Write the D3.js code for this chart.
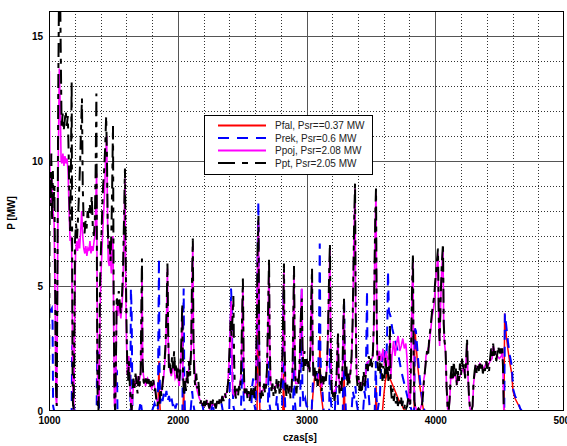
<!DOCTYPE html>
<html><head><meta charset="utf-8">
<script src="https://cdn.jsdelivr.net/npm/d3@7"></script>
<style>body{margin:0;background:#fff}svg{display:block}</style>
</head><body>
<svg id="chart" width="567" height="446"></svg>
<script>
// ---- DATA (time [s], power [MW]) ----
const xTicks = [1000, 2000, 3000, 4000, 5000];
const yTicks = [0, 5, 10, 15];
const seriesNames = ["Pfal, Psr==0.37 MW", "Prek, Psr=0.6 MW", "Ppoj, Psr=2.08 MW", "Ppt, Psr=2.05 MW"];

const pfal = [[1000,0],[1846,0],[1850,1.0],[1854,2.0],[1858,0.5],[1864,0],[2040,0],[2046,0.9],[2052,0],[2616,0],[2622,3.5],[2627,6.0],[2632,1.5],[2638,0],[2816,0],[2822,1.5],[2828,0],[3040,0],[3052,0.8],[3062,1.3],[3074,1.5],[3084,1.4],[3094,1.0],[3100,1.8],[3104,3.0],[3110,0.8],[3120,0.4],[3130,0],[3286,0],[3292,1.5],[3298,0],[3536,0],[3540,1.0],[3546,0],[3590,0],[3600,0.6],[3612,1.2],[3626,1.5],[3640,1.4],[3656,1.2],[3672,1.0],[3688,0.8],[3704,0.6],[3720,0.4],[3736,0.3],[3752,0.1],[3766,0],[3836,0],[3842,3.3],[3852,2.6],[3864,1.8],[3876,1.2],[3888,0.7],[3900,0.3],[3910,0],[4534,0],[4539,3.9],[4552,3.0],[4566,2.4],[4580,1.9],[4594,1.5],[4604,0.8],[4620,0.5],[4640,0.3],[4670,0],[4790,0]];

const prek = [[1000,4.1],[1012,4.0],[1022,4.1],[1028,3.5],[1032,0.2],[1040,0],[1176,0],[1180,2.6],[1190,2.7],[1195,0.1],[1200,0],[1370,0],[1374,2.4],[1384,2.3],[1389,0],[1512,0],[1516,1.7],[1528,1.6],[1532,0],[1632,0],[1636,4.9],[1642,4.0],[1648,0.2],[1660,0],[1700,0],[1712,0.4],[1722,0],[1800,0],[1820,0.3],[1836,0],[1846,0.1],[1850,3.5],[1854,6.1],[1858,2.0],[1864,0.3],[1872,0.6],[1882,0.4],[1892,0.7],[1902,0.5],[1912,0.8],[1922,0.4],[1932,0.6],[1942,0.3],[1952,0.5],[1962,0.2],[1972,0.4],[1982,0.1],[1992,0.3],[2002,0],[2036,0],[2040,2.5],[2046,4.9],[2051,1.0],[2056,0],[2100,0],[2112,0.8],[2120,0.3],[2130,0],[2180,0],[2190,0.3],[2200,0],[2260,0],[2270,0.4],[2280,0],[2330,0],[2340,0.3],[2350,0],[2400,0],[2408,2.0],[2414,4.9],[2420,4.2],[2426,1.0],[2432,0.2],[2440,0],[2490,0],[2500,1.5],[2506,2.2],[2512,0.5],[2520,0],[2570,0],[2578,1.0],[2586,1.3],[2594,0.3],[2604,0],[2612,1.5],[2620,6.0],[2626,8.4],[2632,2.5],[2638,0.4],[2646,0],[2700,0],[2706,2.0],[2712,0.3],[2720,0],[2760,0],[2770,0.6],[2780,0],[2810,0],[2816,2.5],[2822,4.8],[2828,1.2],[2836,0],[2896,0],[2902,2.8],[2908,0.5],[2916,0],[2950,0],[2956,2.0],[2962,4.9],[2968,1.0],[2976,0.3],[2990,0.5],[3000,0.2],[3040,0],[3050,1.2],[3060,1.6],[3072,1.5],[3080,1.7],[3090,1.3],[3098,3.5],[3103,6.7],[3108,2.5],[3114,1.2],[3124,0.8],[3134,0],[3176,0],[3182,2.5],[3188,0.5],[3196,0],[3220,0],[3230,1.0],[3240,0.8],[3248,0],[3282,0],[3287,3.0],[3292,4.5],[3298,1.0],[3306,0],[3350,0],[3360,0.8],[3370,0.5],[3380,1.0],[3390,0.3],[3400,0],[3440,0],[3450,0.8],[3458,0.5],[3464,2.5],[3470,4.8],[3476,1.2],[3484,0.6],[3492,0],[3530,0],[3538,2.0],[3544,0.5],[3552,0],[3570,0.6],[3580,1.8],[3590,2.3],[3600,2.0],[3612,2.4],[3622,2.2],[3628,3.5],[3633,5.6],[3640,4.0],[3652,3.8],[3666,3.3],[3680,3.0],[3694,2.7],[3708,2.4],[3722,2.0],[3736,1.6],[3750,1.3],[3764,1.0],[3778,0.7],[3792,0.4],[3806,0.2],[3818,0],[3836,0],[3842,3.3],[3850,3.2],[3862,2.4],[3874,1.6],[3886,1.0],[3898,0.5],[3910,0.1],[3920,0],[4536,0],[4541,3.9],[4552,3.4],[4566,2.7],[4580,2.2],[4595,1.8],[4604,0.9],[4620,0.6],[4640,0.4],[4660,0.1],[4674,0],[4790,0]];

const ppoj = [[1000,0],[1003,13.6],[1008,9.0],[1014,8.2],[1020,9.5],[1026,8.5],[1032,8.0],[1040,7.5],[1048,4.0],[1054,0.5],[1060,0.2],[1066,5.0],[1072,10.0],[1080,13.7],[1088,12.0],[1094,10.0],[1100,9.9],[1108,10.3],[1116,9.8],[1124,10.2],[1132,9.9],[1140,10.1],[1148,9.6],[1156,8.0],[1164,6.8],[1170,7.0],[1176,6.5],[1182,3.0],[1186,0.5],[1192,0],[1198,3.0],[1206,6.3],[1214,6.8],[1222,6.4],[1230,6.9],[1238,6.5],[1246,7.2],[1254,8.0],[1262,7.0],[1270,6.5],[1278,6.3],[1286,6.6],[1294,6.2],[1302,6.5],[1310,6.4],[1318,6.8],[1326,6.3],[1334,6.6],[1342,6.4],[1350,6.8],[1358,7.0],[1364,8.5],[1370,9.5],[1376,2.0],[1380,0.2],[1390,0.5],[1396,4.0],[1404,5.5],[1412,6.5],[1420,7.5],[1430,8.5],[1440,10.2],[1448,11.0],[1454,8.0],[1460,6.0],[1468,5.8],[1476,6.3],[1484,5.5],[1490,6.5],[1497,7.0],[1503,3.0],[1508,0.3],[1514,0],[1520,1.5],[1526,4.2],[1534,3.8],[1542,4.4],[1550,4.0],[1558,3.7],[1566,4.2],[1574,4.8],[1582,7.0],[1590,9.3],[1596,5.0],[1602,2.8],[1608,1.5],[1614,1.4],[1620,2.2],[1628,1.2],[1636,0.3],[1642,0],[1648,0.5],[1656,1.0],[1664,1.2],[1672,1.0],[1680,1.4],[1688,1.2],[1696,1.0],[1704,1.3],[1712,1.5],[1718,3.0],[1722,5.8],[1728,1.8],[1734,1.4],[1750,1.0],[1766,1.3],[1782,1.1],[1798,0.9],[1814,1.2],[1830,0.6],[1846,0.3],[1858,0.6],[1874,0.8],[1890,1.3],[1906,2.4],[1914,4.0],[1920,5.7],[1926,2.8],[1934,1.8],[1950,1.4],[1966,1.9],[1980,1.3],[1996,1.5],[2012,1.0],[2028,2.5],[2035,4.1],[2041,1.3],[2056,1.0],[2072,1.4],[2088,1.7],[2104,2.3],[2110,4.8],[2117,6.7],[2122,2.8],[2136,1.2],[2152,0.8],[2168,0.5],[2186,0.3],[2206,0.2],[2226,0.4],[2246,0.1],[2266,0.3],[2286,0.2],[2306,0.3],[2326,0.4],[2346,0.5],[2366,0.6],[2386,0.8],[2402,2.3],[2410,3.8],[2416,4.4],[2422,1.8],[2428,0.7],[2444,0.6],[2460,0.8],[2476,0.9],[2492,1.4],[2499,3.4],[2506,5.1],[2512,1.8],[2520,0.7],[2536,0.8],[2552,0.6],[2568,0.8],[2584,0.7],[2600,0.8],[2608,1.3],[2614,3.3],[2620,6.2],[2627,7.6],[2632,2.8],[2640,0.7],[2656,0.8],[2672,0.9],[2686,1.1],[2694,1.7],[2701,3.6],[2709,5.9],[2714,2.8],[2722,1.1],[2738,0.9],[2754,0.9],[2770,1.1],[2786,1.0],[2802,1.1],[2810,1.5],[2815,2.5],[2820,4.3],[2825,5.7],[2830,2.3],[2838,0.9],[2854,0.9],[2870,0.8],[2886,1.0],[2892,1.7],[2898,3.8],[2903,5.6],[2908,2.8],[2916,1.1],[2932,1.1],[2946,1.7],[2952,3.2],[2958,4.4],[2964,4.9],[2969,2.6],[2978,1.8],[2994,2.0],[3010,1.8],[3024,1.6],[3031,2.5],[3037,4.3],[3043,5.5],[3048,2.3],[3056,1.4],[3072,1.3],[3088,1.2],[3102,1.7],[3118,1.0],[3134,1.2],[3150,1.3],[3158,1.7],[3164,2.5],[3170,3.8],[3176,5.3],[3182,6.5],[3188,2.8],[3196,0.9],[3212,0.7],[3228,0.9],[3234,1.4],[3240,2.4],[3245,3.0],[3250,1.4],[3260,0.9],[3274,1.0],[3280,1.7],[3286,3.3],[3291,4.3],[3296,2.4],[3304,1.5],[3320,1.2],[3336,1.3],[3350,2.0],[3358,3.4],[3364,5.3],[3370,7.3],[3377,8.9],[3382,3.8],[3390,1.4],[3406,1.2],[3422,1.0],[3438,1.2],[3454,1.2],[3468,1.9],[3484,2.0],[3500,2.0],[3516,2.2],[3523,3.4],[3529,5.8],[3535,7.8],[3540,8.7],[3545,3.8],[3552,2.0],[3566,2.4],[3580,2.0],[3594,2.5],[3606,1.8],[3620,2.4],[3634,1.9],[3642,1.6],[3648,3.2],[3654,1.3],[3664,2.2],[3676,2.8],[3688,2.2],[3700,2.7],[3712,3.0],[3724,2.4],[3736,2.6],[3748,2.9],[3760,2.5],[3772,2.7],[3782,2.0],[3790,1.0],[3798,0.3],[3806,0.3],[3814,2.8],[3820,4.8],[3827,6.1],[3832,1.8],[3840,0.3],[3856,0],[3880,0],[3896,0.3],[3904,0.8],[3912,1.3],[3920,1.5],[3928,2.2],[3936,2.3],[3944,2.5],[3952,2.6],[3960,3.0],[3968,3.4],[3976,3.8],[3984,4.0],[3992,4.3],[4000,5.0],[4010,5.6],[4021,6.3],[4028,3.3],[4034,2.6],[4042,4.3],[4050,5.6],[4060,6.5],[4066,3.3],[4072,2.7],[4080,2.3],[4088,0.9],[4096,0.1],[4104,0],[4112,0.4],[4120,1.3],[4136,1.3],[4152,1.5],[4168,1.1],[4184,1.3],[4200,1.5],[4216,1.7],[4232,1.4],[4247,2.7],[4254,1.4],[4262,0.5],[4270,0.1],[4280,0],[4290,0.2],[4298,1.1],[4314,1.8],[4330,1.7],[4346,1.9],[4362,1.8],[4378,1.7],[4394,1.9],[4410,1.8],[4426,2.0],[4442,2.1],[4450,2.6],[4466,2.3],[4482,2.2],[4498,2.1],[4514,2.2],[4520,2.5],[4526,1.7],[4532,0.1],[4540,0],[4790,0]];

const ppt = [[1000,0],[1006,9.5],[1012,8.2],[1018,10.3],[1024,7.6],[1030,9.6],[1036,8.4],[1042,9.0],[1048,5.0],[1054,1.0],[1060,0.2],[1066,6.0],[1072,13.0],[1078,16.8],[1086,17.0],[1092,14.0],[1098,11.3],[1106,11.9],[1114,11.2],[1122,11.6],[1130,12.0],[1138,11.4],[1146,11.8],[1152,10.5],[1158,8.5],[1164,7.2],[1170,9.5],[1176,13.2],[1180,6.0],[1184,0.5],[1190,0],[1196,2.0],[1202,6.8],[1210,7.5],[1218,6.9],[1226,7.8],[1234,8.8],[1242,10.0],[1250,11.5],[1256,12.5],[1262,9.0],[1268,7.8],[1276,7.1],[1284,7.6],[1292,7.3],[1300,8.0],[1308,7.7],[1316,8.3],[1324,7.9],[1332,8.6],[1340,7.4],[1348,7.0],[1356,7.6],[1362,9.5],[1368,12.7],[1374,3.0],[1378,0.3],[1384,0],[1390,1.5],[1396,5.0],[1404,6.5],[1412,7.8],[1420,9.0],[1428,9.6],[1436,10.5],[1444,11.8],[1450,10.2],[1456,7.5],[1462,6.5],[1470,6.8],[1478,6.0],[1486,7.5],[1492,9.5],[1497,11.4],[1502,5.0],[1508,0.5],[1514,0],[1520,2.0],[1526,4.6],[1534,4.2],[1542,4.8],[1550,4.3],[1558,3.9],[1566,4.5],[1574,5.5],[1582,7.5],[1590,9.7],[1596,6.0],[1602,3.5],[1608,1.8],[1614,1.2],[1620,2.0],[1628,1.0],[1636,0.2],[1642,0],[1648,0.6],[1656,1.3],[1664,0.9],[1672,1.5],[1680,1.1],[1688,0.7],[1696,1.4],[1704,1.0],[1712,1.6],[1717,4.0],[1722,6.1],[1727,2.0],[1734,1.2],[1742,1.0],[1752,1.3],[1762,1.1],[1772,1.4],[1782,0.9],[1792,1.2],[1802,1.0],[1810,1.3],[1818,0.8],[1826,0.9],[1834,0.4],[1842,0.2],[1850,0.5],[1858,0.3],[1866,0.9],[1874,0.6],[1882,1.1],[1890,1.5],[1898,2.0],[1906,2.8],[1914,4.2],[1920,5.9],[1926,3.0],[1932,1.6],[1940,2.0],[1948,1.5],[1956,2.2],[1964,1.7],[1972,2.4],[1980,1.5],[1988,1.9],[1996,1.3],[2004,1.7],[2012,1.2],[2020,1.6],[2028,2.8],[2035,4.3],[2041,1.5],[2048,0.6],[2056,1.2],[2064,0.8],[2072,1.6],[2080,1.1],[2088,2.0],[2096,1.4],[2104,2.5],[2110,5.0],[2117,6.9],[2122,3.0],[2128,1.4],[2136,1.0],[2144,1.5],[2152,0.9],[2160,1.2],[2168,0.6],[2176,0.3],[2186,0.5],[2196,0.2],[2206,0.4],[2216,0.1],[2226,0.5],[2236,0.3],[2246,0.1],[2256,0.4],[2266,0.2],[2276,0.5],[2286,0.3],[2296,0.1],[2306,0.4],[2316,0.2],[2326,0.5],[2336,0.3],[2346,0.6],[2356,0.4],[2366,0.7],[2376,0.5],[2386,0.9],[2394,1.3],[2402,2.5],[2410,3.6],[2418,3.0],[2426,3.8],[2432,4.6],[2438,2.0],[2444,0.8],[2452,0.5],[2460,0.9],[2468,0.6],[2476,1.0],[2484,0.8],[2492,1.6],[2499,3.6],[2506,5.3],[2512,2.0],[2518,0.8],[2526,0.6],[2534,0.9],[2542,0.5],[2550,0.8],[2558,0.4],[2566,0.7],[2574,1.0],[2582,0.6],[2590,0.9],[2598,0.5],[2606,1.2],[2614,3.5],[2620,6.5],[2627,7.8],[2632,3.0],[2638,0.8],[2646,0.5],[2654,0.9],[2662,0.6],[2670,1.1],[2678,0.7],[2686,1.0],[2694,1.8],[2701,3.8],[2709,6.1],[2714,3.0],[2720,1.2],[2728,0.8],[2736,1.1],[2744,0.6],[2752,1.0],[2760,0.7],[2768,1.3],[2776,0.9],[2784,1.2],[2792,0.6],[2800,1.0],[2808,1.4],[2815,2.6],[2820,4.5],[2825,5.9],[2830,2.5],[2836,1.0],[2844,0.6],[2852,1.1],[2860,0.7],[2868,1.0],[2876,0.5],[2884,0.9],[2892,1.8],[2898,4.0],[2903,5.8],[2908,3.0],[2914,1.2],[2922,0.7],[2930,1.3],[2938,1.0],[2946,1.8],[2952,3.0],[2958,4.0],[2964,4.5],[2969,2.5],[2976,1.6],[2984,2.4],[2992,1.8],[3000,2.2],[3008,1.7],[3016,2.0],[3024,1.5],[3031,2.6],[3037,4.5],[3043,5.7],[3048,2.5],[3054,1.3],[3062,1.8],[3070,1.2],[3078,1.6],[3086,1.0],[3094,1.4],[3102,1.8],[3110,1.2],[3118,0.8],[3126,1.4],[3134,1.0],[3142,1.5],[3150,1.2],[3158,1.8],[3164,2.6],[3170,4.0],[3176,5.5],[3182,6.7],[3188,3.0],[3194,1.0],[3202,0.5],[3210,0.8],[3218,0.4],[3226,0.9],[3234,1.5],[3240,2.5],[3245,3.1],[3250,1.5],[3256,0.7],[3264,1.2],[3272,0.8],[3280,1.8],[3286,3.5],[3291,4.5],[3296,2.5],[3302,1.3],[3310,1.8],[3318,1.0],[3326,1.5],[3334,1.1],[3342,1.6],[3350,2.2],[3358,3.5],[3364,5.5],[3370,7.5],[3377,9.1],[3382,4.0],[3388,1.5],[3396,1.0],[3404,1.4],[3412,0.8],[3420,1.2],[3428,0.7],[3436,1.1],[3444,1.6],[3452,1.0],[3460,1.4],[3468,2.0],[3476,1.6],[3484,2.2],[3492,1.8],[3500,2.1],[3508,1.7],[3516,2.4],[3523,3.5],[3529,6.0],[3535,8.0],[3540,8.9],[3545,4.0],[3550,2.0],[3558,1.6],[3566,2.2],[3574,1.5],[3582,1.9],[3590,1.2],[3598,1.8],[3606,1.3],[3614,2.2],[3622,1.4],[3630,1.8],[3636,1.2],[3642,1.5],[3648,3.4],[3654,1.0],[3662,0.5],[3670,0.9],[3678,0.4],[3686,0.7],[3694,0.3],[3702,0.6],[3710,0.2],[3718,0.5],[3726,0.3],[3734,0.6],[3742,0.2],[3750,0.4],[3758,0.1],[3766,0.3],[3774,0.1],[3782,0.2],[3790,0.5],[3798,0.2],[3806,0.3],[3814,3.0],[3820,5.0],[3827,6.3],[3832,2.0],[3838,0.4],[3846,0.1],[3856,0],[3870,0.1],[3884,0],[3896,0.2],[3904,0.6],[3912,1.2],[3920,1.6],[3928,2.0],[3936,2.4],[3944,2.2],[3952,2.8],[3960,3.2],[3968,3.6],[3976,4.0],[3984,4.3],[3992,4.6],[4000,5.2],[4010,5.8],[4021,6.5],[4028,3.5],[4034,2.8],[4042,4.5],[4050,5.8],[4060,6.7],[4066,3.5],[4072,2.8],[4080,2.5],[4088,1.0],[4096,0.1],[4104,0],[4112,0.5],[4120,1.4],[4128,1.8],[4136,1.2],[4144,2.0],[4152,1.4],[4160,1.7],[4168,1.0],[4176,1.6],[4184,1.2],[4192,1.9],[4200,1.4],[4208,2.1],[4216,1.6],[4224,1.9],[4232,1.3],[4240,2.0],[4247,2.9],[4254,1.5],[4262,0.6],[4270,0.1],[4280,0],[4290,0.2],[4298,1.2],[4306,1.6],[4314,1.9],[4322,1.5],[4330,1.8],[4338,1.6],[4346,2.0],[4354,1.7],[4362,1.9],[4370,1.5],[4378,1.8],[4386,1.6],[4394,2.0],[4402,1.7],[4410,1.9],[4418,1.6],[4426,2.1],[4434,2.5],[4442,2.2],[4450,2.7],[4458,2.1],[4466,2.4],[4474,2.0],[4482,2.3],[4490,2.6],[4498,2.2],[4506,2.5],[4514,2.3],[4520,2.6],[4526,1.8],[4532,0.1],[4540,0],[4790,0]];

// ---- CHART ----
const svg = d3.select("#chart");
const L = 49, R = 564, T = 11, B = 411;
const x = d3.scaleLinear().domain([1000, 5000]).range([L, R]);
const y = d3.scaleLinear().domain([0, 16]).range([B, T]);

svg.append("rect").attr("width", 567).attr("height", 446).attr("fill", "#fff");

const grid = svg.append("g");
// minor dotted grid
const xMinor = d3.range(1000, 5001, 200).filter(v => v % 1000 !== 0);
const yMinor = d3.range(1, 16, 1).filter(v => v % 5 !== 0);
grid.selectAll(".xm").data(xMinor).join("line")
  .attr("x1", d => Math.round(x(d)) + 0.5).attr("x2", d => Math.round(x(d)) + 0.5)
  .attr("y1", T).attr("y2", B)
  .attr("stroke", "#333").attr("stroke-width", 1).attr("stroke-dasharray", "1,2");
grid.selectAll(".ym").data(yMinor).join("line")
  .attr("y1", d => Math.round(y(d)) + 0.5).attr("y2", d => Math.round(y(d)) + 0.5)
  .attr("x1", L).attr("x2", R)
  .attr("stroke", "#333").attr("stroke-width", 1).attr("stroke-dasharray", "1,2");
// major solid grid
grid.selectAll(".xM").data(xTicks.slice(1, -1)).join("line")
  .attr("x1", d => Math.round(x(d)) + 0.5).attr("x2", d => Math.round(x(d)) + 0.5)
  .attr("y1", T).attr("y2", B).attr("stroke", "#555").attr("stroke-width", 1);
grid.selectAll(".yM").data(yTicks.slice(1)).join("line")
  .attr("y1", d => Math.round(y(d)) + 0.5).attr("y2", d => Math.round(y(d)) + 0.5)
  .attr("x1", L).attr("x2", R).attr("stroke", "#555").attr("stroke-width", 1);

// clip
svg.append("defs").append("clipPath").attr("id", "clip")
  .append("rect").attr("x", L).attr("y", T).attr("width", R - L).attr("height", B - T);

const line = d3.line().x(d => x(d[0])).y(d => y(d[1]));
const styles = [
  {data: pfal, color: "#ff0000", w: 1.5, dash: null},
  {data: prek, color: "#0000ff", w: 2, dash: "10,7"},
  {data: ppoj, color: "#ff00ff", w: 1.6, dash: null},
  {data: ppt,  color: "#000000", w: 2, dash: "14,6,5,6"}
];
const plot = svg.append("g").attr("clip-path", "url(#clip)");
styles.forEach(s => {
  plot.append("path").datum(s.data).attr("d", line)
    .attr("fill", "none").attr("stroke", s.color).attr("stroke-width", s.w)
    .attr("stroke-linejoin", "miter").attr("stroke-dasharray", s.dash);
});

// border
svg.append("rect").attr("x", L + 0.5).attr("y", T + 0.5).attr("width", R - L - 1).attr("height", B - T - 1)
  .attr("fill", "none").attr("stroke", "#000").attr("stroke-width", 1);

// axes (labels only)
const xAxis = svg.append("g").attr("transform", `translate(0,${B})`)
  .call(d3.axisBottom(x).tickValues(xTicks).tickFormat(d3.format("d")).tickSize(0).tickPadding(6));
const yAxis = svg.append("g").attr("transform", `translate(${L},0)`)
  .call(d3.axisLeft(y).tickValues(yTicks).tickFormat(d3.format("d")).tickSize(0).tickPadding(6));
[xAxis, yAxis].forEach(a => {
  a.select(".domain").remove();
  a.selectAll("text").attr("font-family", "'Liberation Sans', Arial, sans-serif")
    .attr("font-size", 10).attr("font-weight", "bold").attr("fill", "#000");
});

svg.append("text").attr("x", 300).attr("y", 441).attr("text-anchor", "middle")
  .attr("font-family", "'Liberation Sans', Arial, sans-serif").attr("font-size", 10).attr("font-weight", "bold")
  .text("czas[s]");
svg.append("text").attr("transform", "translate(15,213) rotate(-90)").attr("text-anchor", "middle")
  .attr("font-family", "'Liberation Sans', Arial, sans-serif").attr("font-size", 10).attr("font-weight", "bold")
  .text("P [MW]");

// legend
const lg = svg.append("g");
lg.append("rect").attr("x", 204.5).attr("y", 115.5).attr("width", 168).attr("height", 59)
  .attr("fill", "#fff").attr("stroke", "#000").attr("stroke-width", 1);
const rowsY = [125.5, 138, 150.5, 163];
styles.forEach((s, i) => {
  lg.append("line").attr("x1", 218).attr("x2", 266).attr("y1", rowsY[i]).attr("y2", rowsY[i])
    .attr("stroke", s.color).attr("stroke-width", 2)
    .attr("stroke-dasharray", i === 1 ? "11,8" : (i === 3 ? "17,7,6,7" : null));
  lg.append("text").attr("x", 275).attr("y", rowsY[i] + 3.5)
    .attr("font-family", "'Liberation Sans', Arial, sans-serif").attr("font-size", 10).attr("fill", "#222")
    .text(seriesNames[i]);
});
</script>
</body></html>
